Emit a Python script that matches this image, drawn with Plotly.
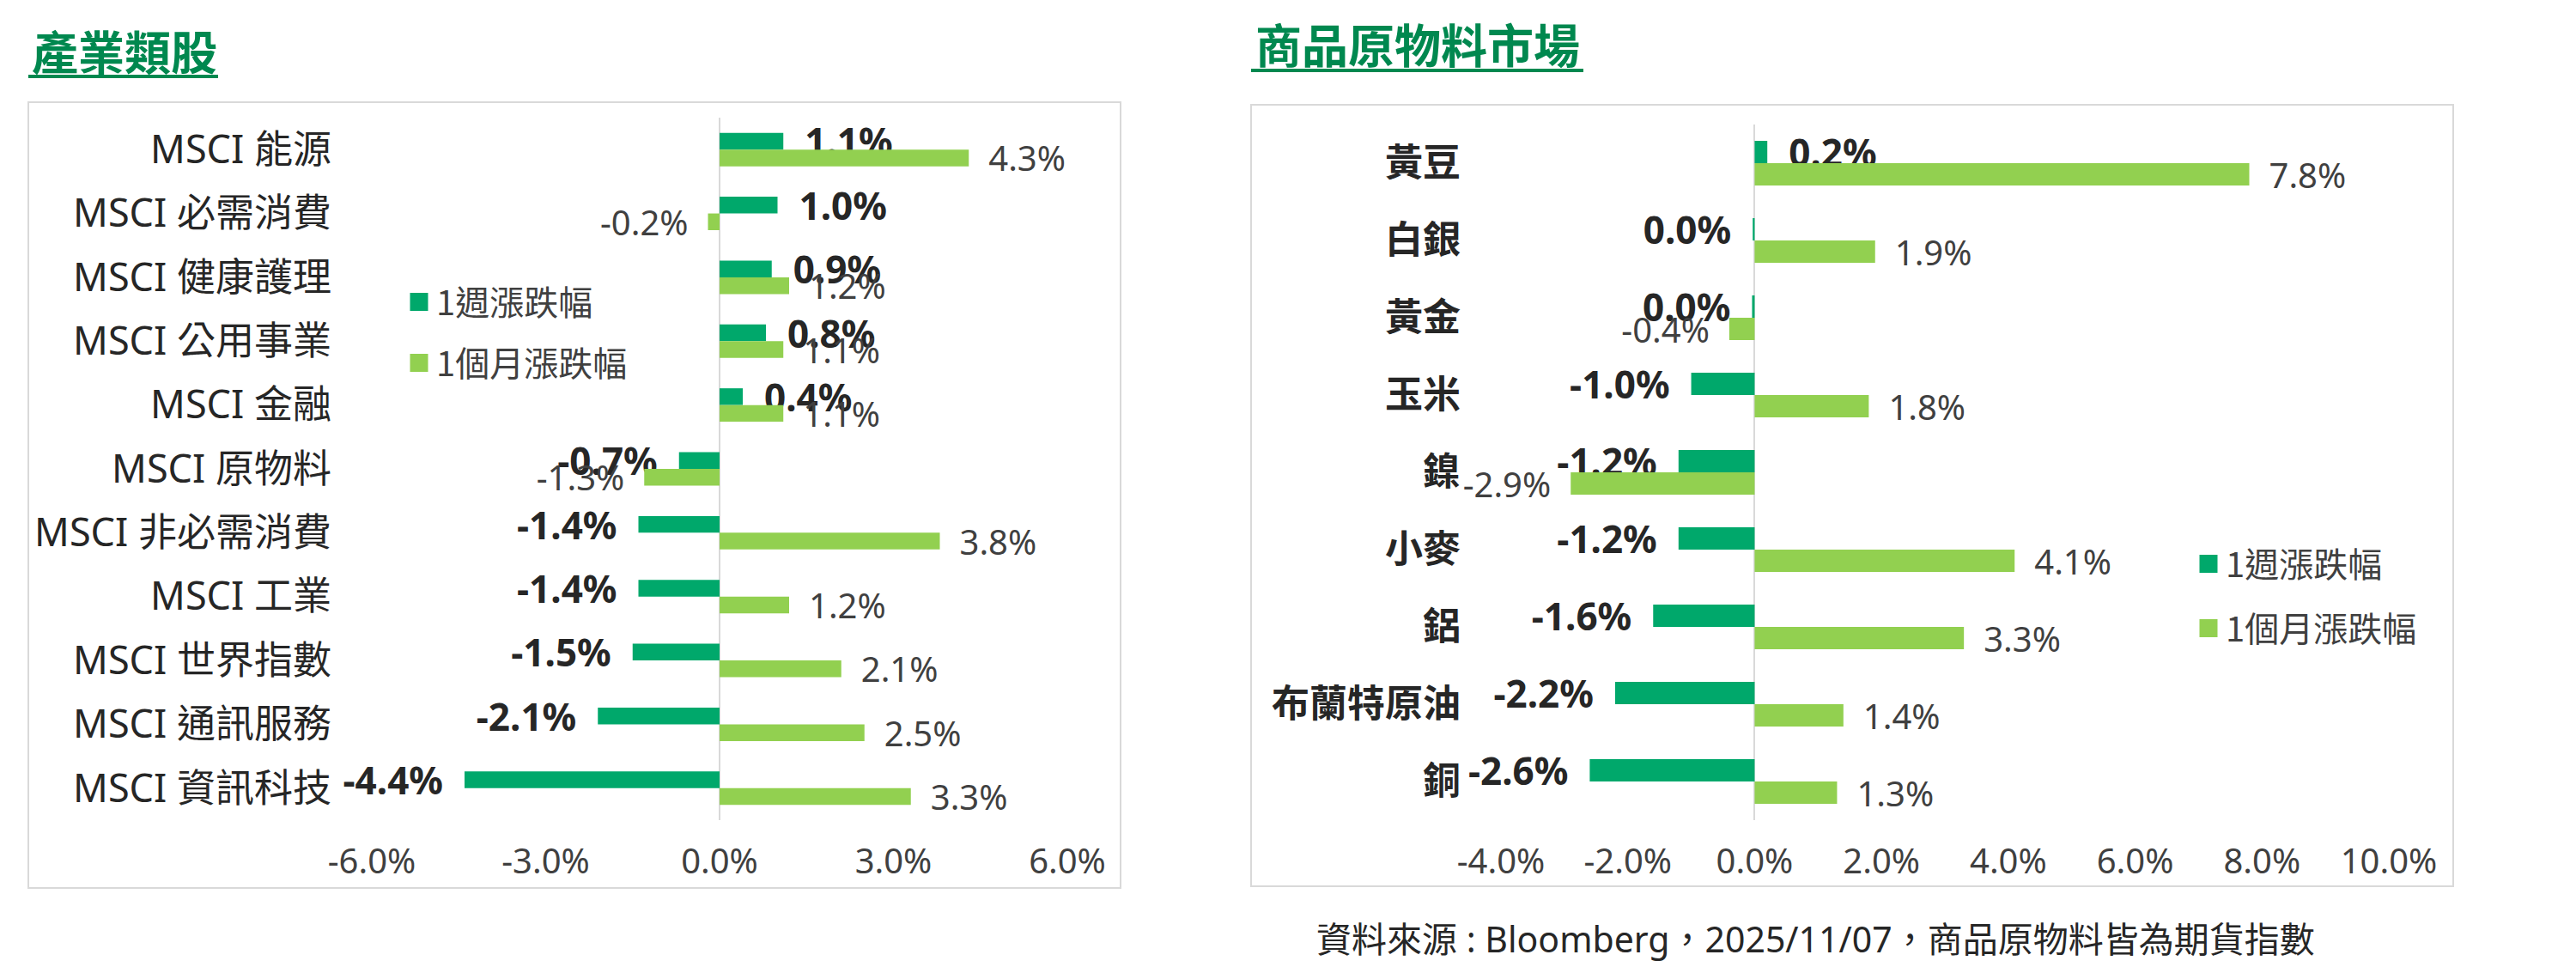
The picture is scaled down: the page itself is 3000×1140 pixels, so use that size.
import plotly.graph_objects as go

# The page body has an 8px default margin: the figure is sized to fit the
# 3000x1140 window and positions below are given in window pixels.
OFF = 8
W, H = 3000 - 2 * OFF, 1140 - 2 * OFF

# ---------------- data ----------------
ind_categories = ["MSCI 能源", "MSCI 必需消費", "MSCI 健康護理", "MSCI 公用事業", "MSCI 金融",
                  "MSCI 原物料", "MSCI 非必需消費", "MSCI 工業", "MSCI 世界指數", "MSCI 通訊服務",
                  "MSCI 資訊科技"]
ind_week = [1.1, 1.0, 0.9, 0.8, 0.4, -0.7, -1.4, -1.4, -1.5, -2.1, -4.4]
ind_month = [4.3, -0.2, 1.2, 1.1, 1.1, -1.3, 3.8, 1.2, 2.1, 2.5, 3.3]

com_categories = ["黃豆", "白銀", "黃金", "玉米", "鎳", "小麥", "鋁", "布蘭特原油", "銅"]
com_week = [0.2, -0.03, -0.04, -1.0, -1.2, -1.2, -1.6, -2.2, -2.6]
com_month = [7.8, 1.9, -0.4, 1.8, -2.9, 4.1, 3.3, 1.4, 1.3]

series_names = ["1週漲跌幅", "1個月漲跌幅"]
ind_ticks = [-6, -3, 0, 3, 6]
com_ticks = [-4, -2, 0, 2, 4, 6, 8, 10]

titles = ["產業類股", "商品原物料市場"]
source_text = "資料來源 : Bloomberg，2025/11/07，商品原物料皆為期貨指數"

# ---------------- style ----------------
C_WEEK = "#00A86B"
C_MONTH = "#92D050"
C_TITLE = "#00884F"
C_FRAME = "#D9D9D9"
FONT = "Noto Sans, Noto Sans CJK TC, sans-serif"
CJK = "Noto Sans CJK TC, Noto Sans, sans-serif"
PAD = "\u2002"


def px(x):
    return (x - OFF) / W


def py(y):
    return 1 - (y - OFF) / H


def fmt(v):
    s = f"{v:.1f}"
    if s == "-0.0":
        s = "0.0"
    return s + "%"


def labels(vals):
    return [(PAD + fmt(v)) if v > 0 else (fmt(v) + PAD) for v in vals]


def bars(cats, vals, color, off, w, xa, ya, tfont):
    return go.Bar(
        y=cats, x=vals, orientation="h",
        marker=dict(color=color, line=dict(width=0)),
        width=w, offset=off,
        text=labels(vals), textposition="outside", constraintext="none",
        textfont=tfont, cliponaxis=False, showlegend=False,
        xaxis=xa, yaxis=ya, hoverinfo="skip",
    )


wk_font = dict(family=FONT, size=44, color="#262626", weight="bold")
mo_font = dict(family=FONT, size=40, color="#404040")

fig = go.Figure()
wl = 0.262
wr = 0.289
fig.add_trace(bars(ind_categories, ind_week, C_WEEK, -wl, wl, "x", "y", wk_font))
fig.add_trace(bars(ind_categories, ind_month, C_MONTH, 0, wl, "x", "y", mo_font))
fig.add_trace(bars(com_categories, com_week, C_WEEK, -wr, wr, "x2", "y2", wk_font))
fig.add_trace(bars(com_categories, com_month, C_MONTH, 0, wr, "x2", "y2", mo_font))

# legend entries
for lg, xa, ya in [("legend", "x", "y"), ("legend2", "x2", "y2")]:
    for i, (nm, col) in enumerate(zip(series_names, [C_WEEK, C_MONTH])):
        fig.add_trace(go.Scatter(
            x=[None], y=[None], mode="markers", name=nm,
            marker=dict(symbol="square", size=16, color=col, line=dict(color=col, width=5)),
            legend=lg, legendgroup=f"{lg}_{i}", xaxis=xa, yaxis=ya, hoverinfo="skip",
        ))

xcommon = dict(showgrid=False, zeroline=True, zerolinecolor=C_FRAME, zerolinewidth=2,
               showline=False, ticks="", tickfont=dict(family=FONT, size=40, color="#404040"),
               ticklabelstandoff=21, automargin=False, fixedrange=True)
ycommon = dict(showgrid=False, zeroline=False, showline=False, ticks="", type="category",
               automargin=False, fixedrange=True, ticklabelstandoff=46)

fig.update_layout(
    width=W, height=H, template="none",
    margin=dict(l=0, r=0, t=0, b=0),
    paper_bgcolor="white", plot_bgcolor="rgba(0,0,0,0)",
    barmode="overlay",
    font=dict(family=FONT, color="#262626"),
    xaxis=dict(domain=[px(433), px(1243)], range=[-6, 6], anchor="y",
               tickvals=ind_ticks, ticktext=[fmt(t) for t in ind_ticks], **xcommon),
    yaxis=dict(domain=[py(955), py(137)], range=[len(ind_categories) - 0.5, -0.5], anchor="x",
               tickfont=dict(family=FONT, size=45, color="#262626"), **ycommon),
    xaxis2=dict(domain=[px(1748), px(2782)], range=[-4, 10], anchor="y2",
                tickvals=com_ticks, ticktext=[fmt(t) for t in com_ticks], **xcommon),
    yaxis2=dict(domain=[py(955), py(145)], range=[len(com_categories) - 0.5, -0.5], anchor="x2",
                tickfont=dict(family=FONT, size=44, color="#262626", weight="bold"), **ycommon),
    legend=dict(x=px(468), y=py(319), xanchor="left", yanchor="top", bgcolor="rgba(0,0,0,0)",
                font=dict(family=CJK, size=40, color="#404040"), tracegroupgap=16,
                itemsizing="trace"),
    legend2=dict(x=px(2552), y=py(624), xanchor="left", yanchor="top", bgcolor="rgba(0,0,0,0)",
                 font=dict(family=CJK, size=40, color="#404040"), tracegroupgap=20,
                 itemsizing="trace"),
    showlegend=True,
)

shapes = [
    dict(type="rect", xref="paper", yref="paper", x0=px(33), x1=px(1305), y0=py(1034), y1=py(119),
         line=dict(color=C_FRAME, width=2), fillcolor="rgba(0,0,0,0)", layer="below"),
    dict(type="rect", xref="paper", yref="paper", x0=px(1457), x1=px(2857), y0=py(1032), y1=py(122),
         line=dict(color=C_FRAME, width=2), fillcolor="rgba(0,0,0,0)", layer="below"),
    dict(type="line", xref="paper", yref="paper", x0=px(33), x1=px(254), y0=py(89), y1=py(89),
         line=dict(color=C_TITLE, width=4)),
    dict(type="line", xref="paper", yref="paper", x0=px(1457), x1=px(1844), y0=py(82), y1=py(82),
         line=dict(color=C_TITLE, width=4)),
]
annotations = [
    dict(text=f"<b>{titles[0]}</b>", x=px(35), y=py(58), xref="paper", yref="paper",
         xanchor="left", yanchor="middle", showarrow=False,
         font=dict(family=CJK, size=54, color=C_TITLE)),
    dict(text=f"<b>{titles[1]}</b>", x=px(1460), y=py(51), xref="paper", yref="paper",
         xanchor="left", yanchor="middle", showarrow=False,
         font=dict(family=CJK, size=54, color=C_TITLE)),
    dict(text=source_text, x=px(1531), y=py(1093), xref="paper", yref="paper",
         xanchor="left", yanchor="middle", showarrow=False,
         font=dict(family=FONT, size=41, color="#262626")),
]
fig.update_layout(shapes=shapes, annotations=annotations)

fig.write_html("out.html")
